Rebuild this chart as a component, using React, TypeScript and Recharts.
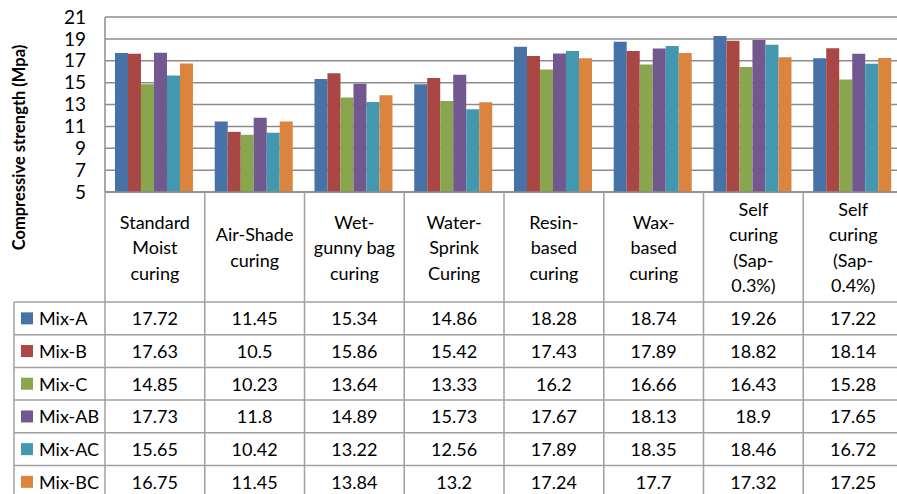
import React from 'react';
import { BarChart, Bar, XAxis, YAxis, CartesianGrid, Label } from 'recharts';

const categories = [
    'Standard Moist curing',
    'Air-Shade curing',
    'Wet-gunny bag curing',
    'Water-Sprink Curing',
    'Resin-based curing',
    'Wax-based curing',
    'Self curing (Sap-0.3%)',
    'Self curing (Sap-0.4%)',
];

// how each category label wraps in the table header
const categoryLines = [
    ['Standard', 'Moist', 'curing'],
    ['Air-Shade', 'curing'],
    ['Wet-', 'gunny bag', 'curing'],
    ['Water-', 'Sprink', 'Curing'],
    ['Resin-', 'based', 'curing'],
    ['Wax-', 'based', 'curing'],
    ['Self', 'curing', '(Sap-', '0.3%)'],
    ['Self', 'curing', '(Sap-', '0.4%)'],
];

const mixA = [17.72, 11.45, 15.34, 14.86, 18.28, 18.74, 19.26, 17.22];
const mixB = [17.63, 10.5, 15.86, 15.42, 17.43, 17.89, 18.82, 18.14];
const mixC = [14.85, 10.23, 13.64, 13.33, 16.2, 16.66, 16.43, 15.28];
const mixAB = [17.73, 11.8, 14.89, 15.73, 17.67, 18.13, 18.9, 17.65];
const mixAC = [15.65, 10.42, 13.22, 12.56, 17.89, 18.35, 18.46, 16.72];
const mixBC = [16.75, 11.45, 13.84, 13.2, 17.24, 17.7, 17.32, 17.25];

const yTicks = [5, 7, 9, 11, 13, 15, 17, 19, 21];

const series = [
    { key: 'mixA', name: 'Mix-A', color: '#4672a8', values: mixA },
    { key: 'mixB', name: 'Mix-B', color: '#a94744', values: mixB },
    { key: 'mixC', name: 'Mix-C', color: '#89a54e', values: mixC },
    { key: 'mixAB', name: 'Mix-AB', color: '#71588f', values: mixAB },
    { key: 'mixAC', name: 'Mix-AC', color: '#4298af', values: mixAC },
    { key: 'mixBC', name: 'Mix-BC', color: '#db843d', values: mixBC },
];

const data = categories.map((c, i) => {
    const row: Record<string, string | number> = { category: c };
    series.forEach((s) => { row[s.key] = s.values[i]; });
    return row;
});

const FONT = 'Lato, "Open Sans", sans-serif';
const W = 903;
const H = 494;
const AXIS_W = 105;
const TOP = 17;
const TABLE_H = 302;
const BAND = (W - AXIS_W) / categories.length;
const HEADER_H = 110;
const ROW_H = 32.7;
const LEGEND_X = 14;
const BORDER = '#a0a0a0';
const GRID = '#8c8c8c';

const TableTick = (props: any) => {
    const { x, y, payload } = props;
    const i = payload.index;
    const left = x - BAND / 2;
    const right = x + BAND / 2;
    const lines = categoryLines[i];
    const headerMid = y + HEADER_H / 2;
    const lineH = 25.5;
    const rowsTop = y + HEADER_H;

    return (
        <g fontFamily={FONT}>
            <line x1={right} y1={y} x2={right} y2={H} stroke={BORDER} strokeWidth={1.5} />
            {i === 0 && <line x1={left} y1={y} x2={left} y2={H} stroke={BORDER} strokeWidth={1.5} />}
            {i === 0 && <line x1={LEGEND_X} y1={rowsTop} x2={LEGEND_X} y2={H} stroke={BORDER} strokeWidth={1.5} />}
            {series.map((s, r) => (
                <line key={'h' + r} x1={i === 0 ? LEGEND_X : left} y1={rowsTop + r * ROW_H}
                    x2={right} y2={rowsTop + r * ROW_H} stroke={BORDER} strokeWidth={1.5} />
            ))}
            {lines.map((ln, k) => (
                <text key={'l' + k} x={x} y={headerMid + (k - (lines.length - 1) / 2) * lineH}
                    textAnchor="middle" dominantBaseline="central" fontSize={18} fill="#000">{ln}</text>
            ))}
            {series.map((s, r) => (
                <text key={'v' + r} x={x} y={rowsTop + (r + 0.5) * ROW_H}
                    textAnchor="middle" dominantBaseline="central" fontSize={18} fill="#000">{String(s.values[i])}</text>
            ))}
            {i === 0 && series.map((s, r) => (
                <g key={'k' + r}>
                    <rect x={21} y={rowsTop + (r + 0.5) * ROW_H - 6} width={12} height={12} fill={s.color} />
                    <text x={39} y={rowsTop + (r + 0.5) * ROW_H} dominantBaseline="central"
                        fontSize={18} fill="#000">{s.name}</text>
                </g>
            ))}
        </g>
    );
};

const YTitle = (props: any) => {
    const vb = props.viewBox;
    const cy = vb.y + vb.height / 2 + 43;
    return (
        <text x={19} y={cy} transform={`rotate(-90 19 ${cy})`} textAnchor="middle" dominantBaseline="central"
            fontFamily={FONT} fontWeight="bold" fontSize={16.5} fill="#000">Compressive strength (Mpa)</text>
    );
};

export default function App() {
    return (
        <div style={{ width: 897, height: H, overflow: 'hidden', background: '#fff' }}>
            <style>{'body{margin:0}'}</style>
            <BarChart width={W} height={H} data={data} margin={{ top: TOP, right: 0, bottom: 0, left: 0 }}
                barCategoryGap="10%" barGap={0}>
                <CartesianGrid vertical={false} stroke={GRID} strokeWidth={1.5} />
                <XAxis dataKey="category" height={TABLE_H} interval={0} tickLine={false} tickSize={0} tickMargin={0}
                    axisLine={{ stroke: GRID, strokeWidth: 1.5 }} tick={<TableTick />} />
                <YAxis width={AXIS_W} domain={[5, 21]} ticks={yTicks} interval={0} tickLine={false} tickSize={0}
                    tickMargin={19} axisLine={{ stroke: GRID, strokeWidth: 1.5 }}
                    tick={{ fill: '#000', fontSize: 19, fontFamily: FONT }}>
                    <Label content={<YTitle />} />
                </YAxis>
                {series.map((s) => (
                    <Bar key={s.key} dataKey={s.key} name={s.name} fill={s.color} isAnimationActive={false} />
                ))}
            </BarChart>
        </div>
    );
}
